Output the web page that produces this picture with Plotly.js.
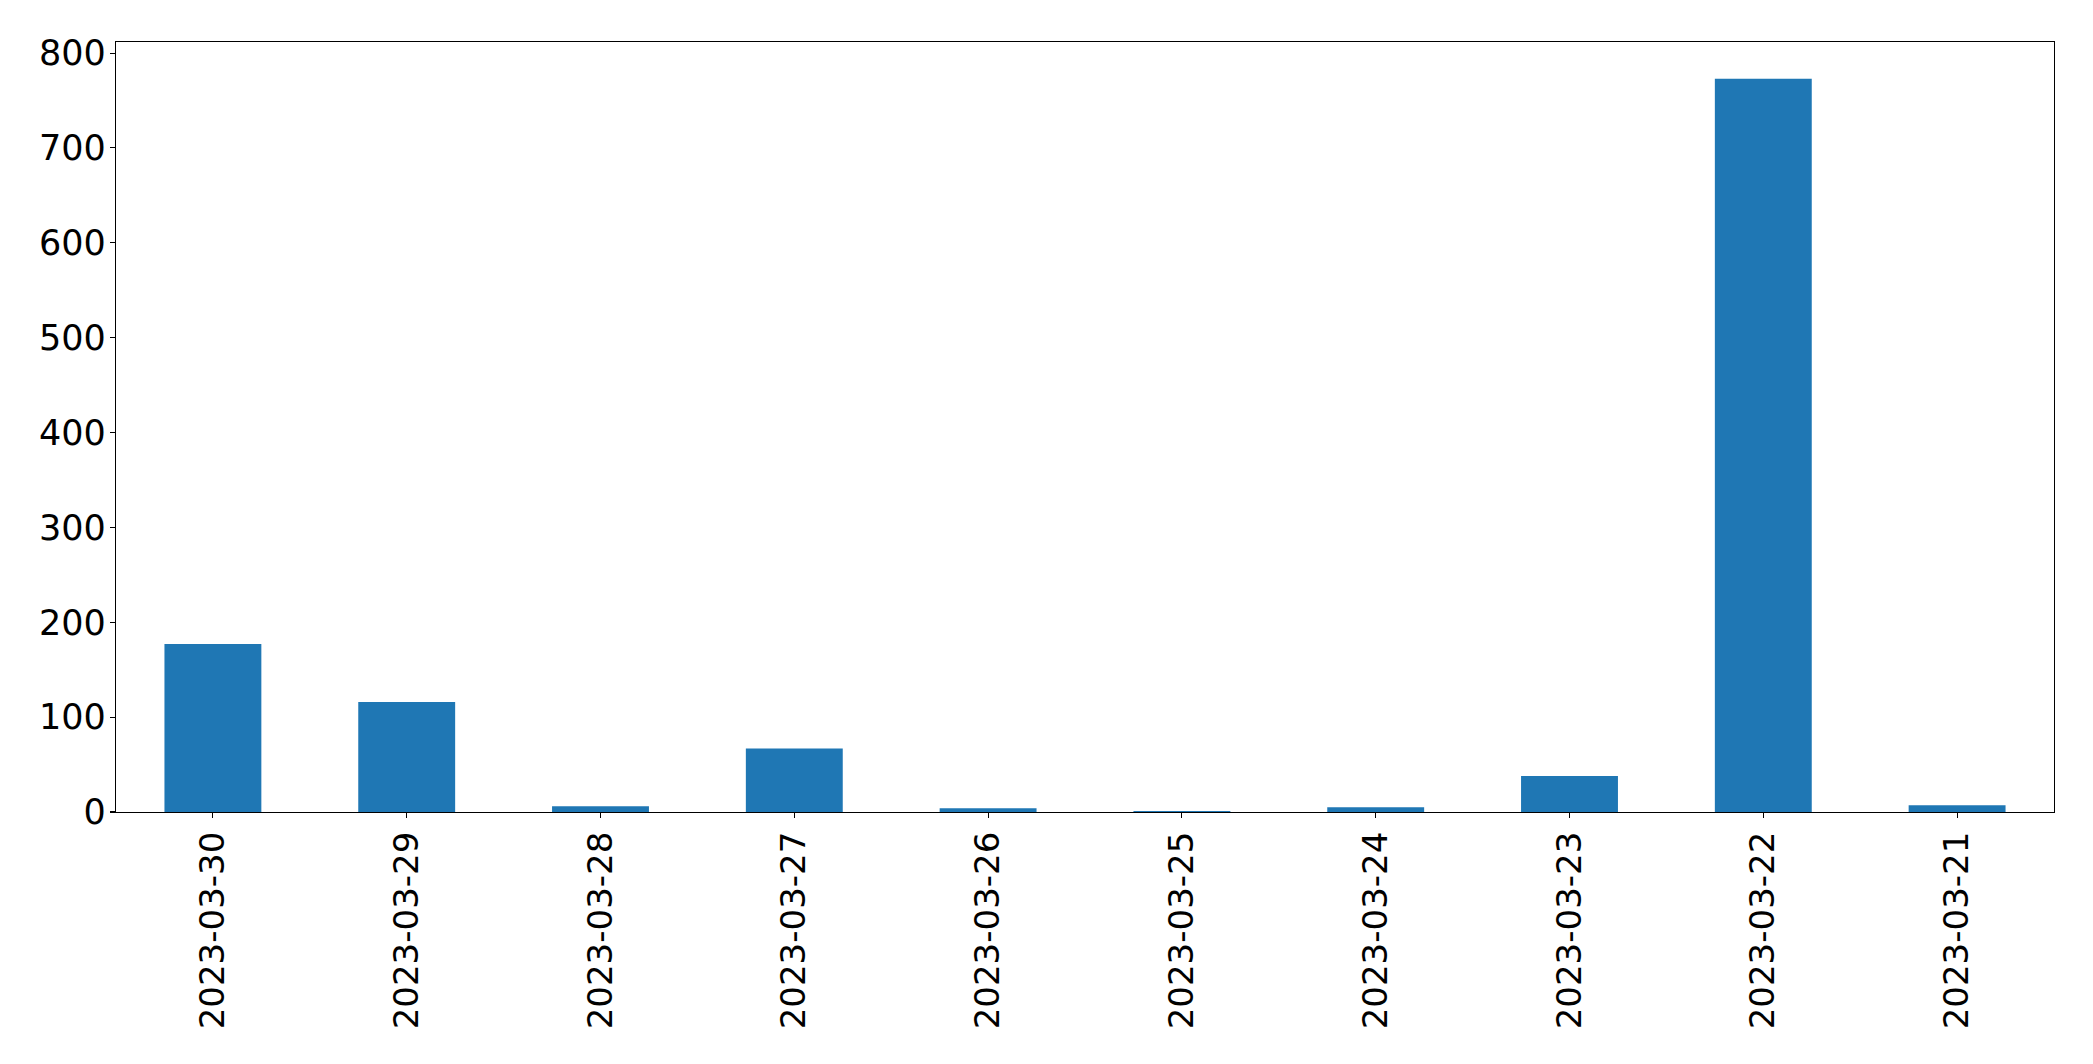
<!DOCTYPE html>
<html>
<head>
<meta charset="utf-8">
<script src="https://cdn.plot.ly/plotly-3.0.1.min.js"></script>
<style>html,body{margin:0;padding:0;background:#fff;}#chart{width:2093px;height:1064px;}</style>
</head>
<body>
<div id="chart"></div>
<script>
const dates = ["2023-03-30","2023-03-29","2023-03-28","2023-03-27","2023-03-26","2023-03-25","2023-03-24","2023-03-23","2023-03-22","2023-03-21"];
const counts = [177, 116, 6, 67, 4, 1, 5, 38, 773, 7];
const yTicks = [0, 100, 200, 300, 400, 500, 600, 700, 800];

const trace = {
  type: "bar",
  x: dates.map((d, i) => i),
  y: counts,
  width: 0.5,
  marker: {color: "#1f77b4", line: {width: 0}},
  hoverinfo: "skip"
};

const layout = {
  width: 2093,
  height: 1064,
  paper_bgcolor: "#ffffff",
  plot_bgcolor: "#ffffff",
  margin: {l: 116, r: 39, t: 42, b: 252, pad: 0},
  showlegend: false,
  font: {family: "DejaVu Sans", size: 35, color: "#000"},
  xaxis: {
    range: [-0.5, dates.length - 0.5],
    tickmode: "array",
    tickvals: dates.map((d, i) => i),
    ticktext: dates,
    tickangle: -90,
    ticks: "outside",
    ticklen: 5,
    tickwidth: 1.1,
    tickcolor: "#000",
    showline: true,
    linecolor: "#000",
    linewidth: 1.1,
    mirror: true,
    showgrid: false,
    zeroline: false,
    tickfont: {family: "DejaVu Sans", size: 34, color: "#000"},
    automargin: false
  },
  yaxis: {
    range: [0, Math.max(...counts) * 1.05],
    tickmode: "array",
    tickvals: yTicks,
    ticktext: yTicks.map(String),
    ticks: "outside",
    ticklen: 5,
    tickwidth: 1.1,
    tickcolor: "#000",
    showline: true,
    linecolor: "#000",
    linewidth: 1.1,
    mirror: true,
    showgrid: false,
    zeroline: false,
    ticklabelstandoff: -3,
    tickfont: {family: "DejaVu Sans", size: 35, color: "#000"},
    automargin: false
  }
};

Plotly.newPlot("chart", [trace], layout, {displayModeBar: false, staticPlot: true});
</script>
</body>
</html>
